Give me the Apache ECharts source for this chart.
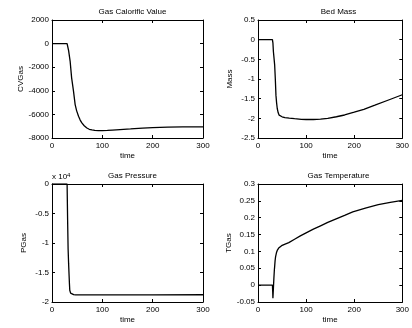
<!DOCTYPE html>
<html><head><meta charset="utf-8">
<script src="https://cdn.jsdelivr.net/npm/echarts@6/dist/echarts.min.js"></script>
<style>html,body{margin:0;padding:0;background:#fff}#c{width:412px;height:328px}</style>
</head><body><div id="c"></div>
<script>
// Gas Calorific Value
const cvTime   = [0, 30, 31, 33, 36, 39, 42.7, 46, 49, 52.7, 56, 59.3, 64, 69.3, 74, 79.3, 85, 92, 100, 110, 120, 135, 156, 180, 200, 230, 260, 300];
const cvValues = [0, 0, -100, -600, -1480, -2900, -4030, -5170, -5700, -6160, -6480, -6720, -6960, -7150, -7260, -7320, -7360, -7380, -7375, -7355, -7330, -7290, -7230, -7160, -7120, -7085, -7065, -7050];
// Bed Mass
const massTime   = [0, 30, 31, 32, 33.3, 34.6, 36, 37.3, 38.6, 40, 42, 44, 47, 50, 56, 65, 76, 90, 100, 115, 130, 145, 163, 180, 200, 220, 243, 270, 300];
const massValues = [0, 0, -0.08, -0.3, -0.47, -0.64, -1.0, -1.41, -1.6, -1.75, -1.86, -1.92, -1.95, -1.96, -1.98, -1.995, -2.01, -2.025, -2.03, -2.03, -2.02, -2.0, -1.96, -1.915, -1.845, -1.77, -1.665, -1.54, -1.40];
// Gas Pressure
const presTime   = [0, 30, 30.5, 31, 32, 33, 34, 34.7, 35.3, 36, 37, 38.5, 40.6, 43, 47, 60, 100, 200, 300];
const presValues = [0, 0, -3000, -6000, -11000, -13500, -15600, -17000, -18000, -18300, -18500, -18620, -18700, -18760, -18790, -18800, -18790, -18780, -18770];
// Gas Temperature
const tempTime   = [0, 30, 30.6, 31, 31.5, 32, 33, 34, 34.6, 35.5, 36.5, 37.3, 38.5, 40, 41.3, 43, 45, 49, 55, 64, 76, 88, 100, 115, 130, 145, 160, 180, 197, 225, 250, 275, 300];
const tempValues = [0, 0, -0.02, -0.039, -0.025, -0.01, 0.02, 0.045, 0.055, 0.072, 0.084, 0.089, 0.097, 0.103, 0.106, 0.110, 0.113, 0.117, 0.121, 0.126, 0.136, 0.146, 0.155, 0.166, 0.176, 0.186, 0.195, 0.207, 0.2175, 0.2295, 0.2385, 0.2455, 0.2515];

const xTicks = {min: 0, max: 300, interval: 100};

const panels = [
  {left: 52,  top: 20,  title: 'Gas Calorific Value', yName: 'CVGas', t: cvTime,   v: cvValues,   min: -8000,  max: 2000, interval: 2000, fmt: v => String(v)},
  {left: 258, top: 20,  title: 'Bed Mass',            yName: 'Mass',  t: massTime, v: massValues, min: -2.5,   max: 0.5,  interval: 0.5,  fmt: v => String(parseFloat(v.toFixed(3)))},
  {left: 52,  top: 184, title: 'Gas Pressure',        yName: 'PGas',  t: presTime, v: presValues, min: -20000, max: 0,    interval: 5000, fmt: v => String(parseFloat((v/10000).toFixed(3)))},
  {left: 258, top: 184, title: 'Gas Temperature',     yName: 'TGas',  t: tempTime, v: tempValues, min: -0.05,  max: 0.3,  interval: 0.05, fmt: v => String(parseFloat(v.toFixed(3)))}
];

const W = 151, H = 118;
const font = 'Liberation Sans, Arial, Helvetica, sans-serif';
const lineCol = '#000';

const grid = [], xAxis = [], yAxis = [], series = [], title = [];
panels.forEach((p, i) => {
  grid.push({left: p.left, top: p.top, width: W, height: H, containLabel: false});
  title.push({text: p.title, left: p.left + W / 2, top: p.top - 17, textAlign: 'center',
    textStyle: {fontFamily: font, fontSize: 8, fontWeight: 'normal', color: '#000'}});
  const axLine = {show: true, onZero: false, lineStyle: {color: lineCol, width: 1}};
  const tick = {show: true, inside: true, length: 3, lineStyle: {color: lineCol, width: 1}};
  xAxis.push({gridIndex: i, type: 'value', position: 'bottom', min: xTicks.min, max: xTicks.max, interval: xTicks.interval,
    name: 'time', nameLocation: 'middle', nameGap: 14, nameTextStyle: {fontFamily: font, fontSize: 8, color: '#000'},
    axisLine: axLine, axisTick: tick, splitLine: {show: false},
    axisLabel: {fontFamily: font, fontSize: 8, color: '#000', margin: 4, showMinLabel: true, showMaxLabel: true}});
  xAxis.push({gridIndex: i, type: 'value', position: 'top', min: xTicks.min, max: xTicks.max, interval: xTicks.interval,
    axisLine: axLine, axisTick: tick, splitLine: {show: false}, axisLabel: {show: false}});
  yAxis.push({gridIndex: i, type: 'value', position: 'left', min: p.min, max: p.max, interval: p.interval,
    name: p.yName, nameLocation: 'middle', nameGap: 24, nameRotate: 90,
    nameTextStyle: {fontFamily: font, fontSize: 8, color: '#000'},
    axisLine: axLine, axisTick: tick, splitLine: {show: false},
    axisLabel: {fontFamily: font, fontSize: 8, color: '#000', margin: 3, formatter: p.fmt, showMinLabel: true, showMaxLabel: true}});
  yAxis.push({gridIndex: i, type: 'value', position: 'right', min: p.min, max: p.max, interval: p.interval,
    axisLine: axLine, axisTick: tick, splitLine: {show: false}, axisLabel: {show: false}});
  series.push({type: 'line', xAxisIndex: 2 * i, yAxisIndex: 2 * i, showSymbol: false, symbol: 'none',
    smooth: false, clip: true, animation: false,
    lineStyle: {color: '#000', width: 1.3},
    data: p.t.map((t, k) => [t, p.v[k]])});
});

const chart = echarts.init(document.getElementById('c'), null, {renderer: 'canvas'});
chart.setOption({
  animation: false,
  backgroundColor: '#fff',
  title, grid, xAxis, yAxis, series,
  graphic: [{
    type: 'text', left: 52, top: 172,
    style: {rich: {b: {fontFamily: font, fontSize: 8, fill: '#000'}, s: {fontFamily: font, fontSize: 6, fill: '#000', verticalAlign: 'top', padding: [0, 0, 4, 0]}},
      text: '{b|x 10}{s|4}'}
  }]
});
</script></body></html>
